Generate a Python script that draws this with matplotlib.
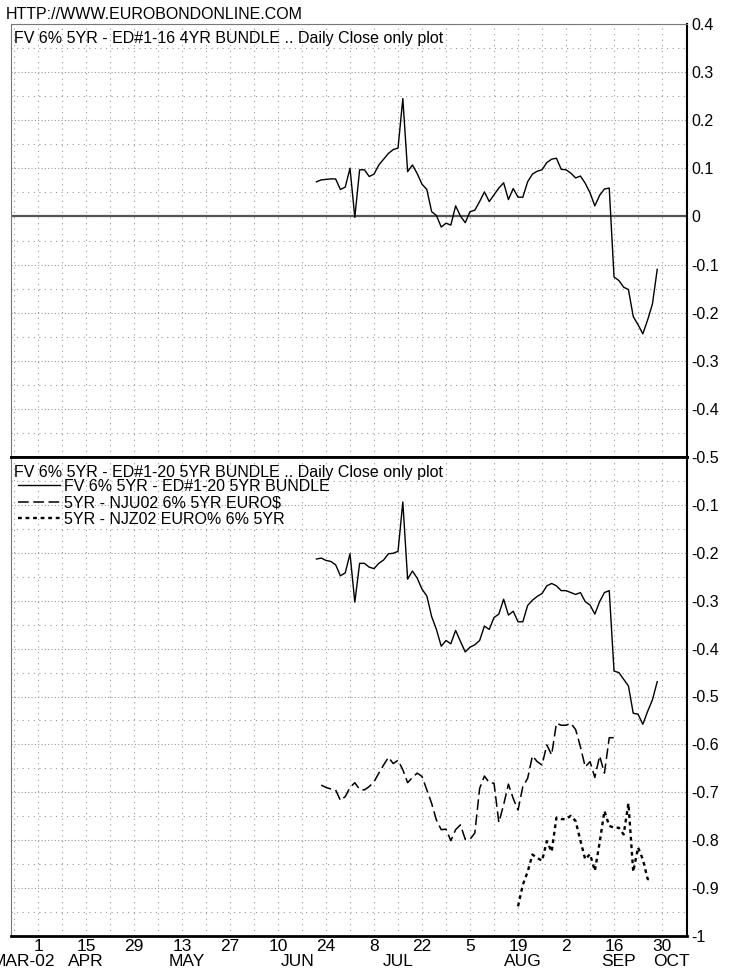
import numpy as np
import pandas as pd
import matplotlib
matplotlib.use('Agg')
import matplotlib.pyplot as plt
from matplotlib import font_manager
from matplotlib.ticker import FixedLocator, MultipleLocator, FuncFormatter, NullFormatter

plt.rcParams['font.family'] = ['Liberation Sans', 'DejaVu Sans']
plt.rcParams['axes.unicode_minus'] = False
_names = {f.name for f in font_manager.fontManager.ttflist}
NARROW = 'Liberation Sans Narrow' if 'Liberation Sans Narrow' in _names else 'Liberation Sans'

# ---------------- data ----------------
main_start = '2002-06-20'
top_vals = [0.072, 0.076, 0.077, 0.078, 0.078, 0.056, 0.061, 0.100, -0.002, 0.097,
            0.097, 0.083, 0.088, 0.107, 0.119, 0.131, 0.139, 0.142, 0.245, 0.093,
            0.107, 0.089, 0.067, 0.056, 0.010, 0.002, -0.022, -0.014, -0.018, 0.022,
            0.001, -0.013, 0.010, 0.013, 0.031, 0.051, 0.031, 0.045, 0.059, 0.070,
            0.035, 0.058, 0.040, 0.040, 0.072, 0.088, 0.094, 0.097, 0.112, 0.119,
            0.121, 0.098, 0.097, 0.090, 0.080, 0.084, 0.069, 0.049, 0.022, 0.044,
            0.057, 0.059, -0.126, -0.133, -0.147, -0.152, -0.208, -0.225, -0.244, -0.215,
            -0.182, -0.110]
bot_vals = [-0.213, -0.211, -0.216, -0.218, -0.225, -0.248, -0.242, -0.202, -0.303, -0.222,
            -0.222, -0.230, -0.233, -0.222, -0.215, -0.202, -0.201, -0.197, -0.094, -0.255,
            -0.238, -0.253, -0.276, -0.290, -0.333, -0.360, -0.395, -0.383, -0.390, -0.362,
            -0.385, -0.407, -0.397, -0.392, -0.383, -0.353, -0.360, -0.335, -0.328, -0.297,
            -0.330, -0.322, -0.344, -0.344, -0.310, -0.299, -0.291, -0.285, -0.269, -0.264,
            -0.269, -0.279, -0.279, -0.283, -0.287, -0.283, -0.302, -0.309, -0.328, -0.302,
            -0.283, -0.279, -0.447, -0.450, -0.464, -0.478, -0.535, -0.537, -0.558, -0.531,
            -0.507, -0.469]
dash_start = '2002-06-21'
dash_vals = [-0.685, -0.690, -0.693, -0.695, -0.717, -0.709, -0.690, -0.680, -0.694, -0.695,
             -0.688, -0.678, -0.660, -0.643, -0.627, -0.640, -0.633, -0.653, -0.680, -0.669,
             -0.660, -0.667, -0.695, -0.723, -0.758, -0.778, -0.777, -0.801, -0.778, -0.768,
             -0.798, -0.798, -0.785, -0.692, -0.666, -0.680, -0.681, -0.763, -0.726, -0.683,
             -0.713, -0.737, -0.688, -0.671, -0.624, -0.636, -0.643, -0.601, -0.622, -0.556,
             -0.560, -0.560, -0.556, -0.569, -0.605, -0.647, -0.636, -0.669, -0.624, -0.660,
             -0.586, -0.586]
dot_start = '2002-08-19'
dot_vals = [-0.938, -0.893, -0.866, -0.830, -0.837, -0.843, -0.802, -0.824, -0.753, -0.756,
            -0.756, -0.749, -0.760, -0.801, -0.840, -0.829, -0.864, -0.805, -0.739, -0.770,
            -0.774, -0.774, -0.788, -0.723, -0.866, -0.815, -0.840, -0.881, -0.885]

tick_dates = pd.date_range('2002-04-01', '2002-09-30', freq='14D')
month_names = ['MAR-02', 'APR', 'MAY', 'JUN', 'JUL', 'AUG', 'SEP', 'OCT']
month_anchor = ['2002-03-27', '2002-04-15', '2002-05-14', '2002-06-14',
                '2002-07-15', '2002-08-20', '2002-09-17', '2002-10-02']

top_title = 'FV 6% 5YR - ED#1-16 4YR BUNDLE .. Daily Close only plot'
bot_title = 'FV 6% 5YR - ED#1-20 5YR BUNDLE .. Daily Close only plot'
series_names = ['FV 6% 5YR - ED#1-20 5YR BUNDLE', '5YR - NJU02 6% 5YR EURO$',
                '5YR - NJZ02 EURO% 6% 5YR']
site = 'HTTP://WWW.EUROBONDONLINE.COM'

# ------------- trading-day axis -------------
origin = np.datetime64('2002-04-01')


def tix(dates):
    d = np.array(pd.DatetimeIndex(dates).values.astype('datetime64[D]'))
    return np.busday_count(origin, d)


x_main = tix(pd.bdate_range(main_start, periods=len(top_vals)))
x_dash = tix(pd.bdate_range(dash_start, periods=len(dash_vals)))
x_dot = tix(pd.bdate_range(dot_start, periods=len(dot_vals)))
x_ticks = tix(tick_dates)
x_month = tix(pd.to_datetime(month_anchor))

W, H = 736, 972
fig = plt.figure(figsize=(W / 100, H / 100), dpi=100)
L, R = 11, 687
ax1 = fig.add_axes([L / W, (H - 457) / H, (R - L) / W, (457 - 24) / H])
ax2 = fig.add_axes([L / W, (H - 936) / H, (R - L) / W, (936 - 457) / H])

FS = 11.5
XFS = 12.5
grid_c = '#9a9a9a'
fmt = FuncFormatter(lambda v, p: '0' if abs(v) < 1e-9 else f'{v:g}')

for ax in (ax1, ax2):
    ax.set_xlim(-5.625, 135.2)
    ax.xaxis.set_major_locator(FixedLocator(x_ticks))
    ax.xaxis.set_minor_locator(MultipleLocator(5))
    ax.yaxis.set_minor_locator(MultipleLocator(0.05))
    ax.grid(which='major', axis='y', ls=(0, (1, 2)), color=grid_c, lw=0.8)
    ax.grid(which='minor', axis='y', ls=(0, (1, 4)), color=grid_c, lw=0.8)
    ax.grid(which='both', axis='x', ls=(0, (1, 4)), color=grid_c, lw=0.8)
    ax.yaxis.tick_right()
    ax.tick_params(axis='both', which='both', length=0)
    ax.tick_params(axis='y', pad=3, labelsize=FS)
    ax.tick_params(axis='x', pad=2, labelsize=XFS)
    ax.yaxis.set_major_formatter(fmt)
    ax.spines['left'].set_color('#777777')
    ax.spines['left'].set_linewidth(0.8)
    ax.spines['right'].set_linewidth(1.5)
    ax.set_axisbelow(True)

# top panel
ax1.set_ylim(-0.5, 0.4)
ax1.yaxis.set_major_locator(FixedLocator(np.round(np.arange(-0.5, 0.41, 0.1), 2)))
ax1.xaxis.set_major_formatter(NullFormatter())
ax1.spines['top'].set_color('#777777')
ax1.spines['top'].set_linewidth(0.8)
ax1.spines['bottom'].set_linewidth(2)
ax1.axhline(0, color='#555555', lw=1.6, zorder=1)
ax1.plot(x_main, top_vals, color='black', lw=1.0, zorder=3)
fig.text(14 / W, 1 - 43 / H, top_title, fontsize=FS, va='baseline', ha='left')
fig.text(6 / W, 1 - 19 / H, site, fontsize=FS, va='baseline', ha='left')

# bottom panel
ax2.set_ylim(-1.0, 0.0)
ax2.yaxis.set_major_locator(FixedLocator(np.round(np.arange(-1.0, -0.05, 0.1), 2)))
ax2.spines['top'].set_linewidth(2)
ax2.spines['bottom'].set_linewidth(2)
ax2.set_xticklabels([str(d.day) for d in tick_dates], fontfamily=NARROW)
l1, = ax2.plot(x_main, bot_vals, color='black', lw=1.0, zorder=3, label=series_names[0])
l2, = ax2.plot(x_dash, dash_vals, color='black', lw=1.1, ls=(0, (7, 3)), zorder=3,
               label=series_names[1])
l3, = ax2.plot(x_dot, dot_vals, color='black', lw=1.7, ls=(0, (1.6, 1.6)), zorder=3,
               label=series_names[2])
fig.text(14 / W, 1 - 477 / H, bot_title, fontsize=FS, va='baseline', ha='left')
leg = ax2.legend(handles=[l1, l2, l3], loc='upper left',
                 bbox_to_anchor=(7 / (R - L), 1 - 22 / 479), frameon=False,
                 fontsize=FS, borderpad=0, borderaxespad=0, handlelength=2.6,
                 handletextpad=0.3, labelspacing=0.08)

for name, xm in zip(month_names, x_month):
    ax2.text(xm, -18 / 479, name, transform=ax2.get_xaxis_transform(), fontsize=XFS,
             fontfamily=NARROW, ha='center', va='top', clip_on=False)

fig.savefig('out.png', dpi=100)
